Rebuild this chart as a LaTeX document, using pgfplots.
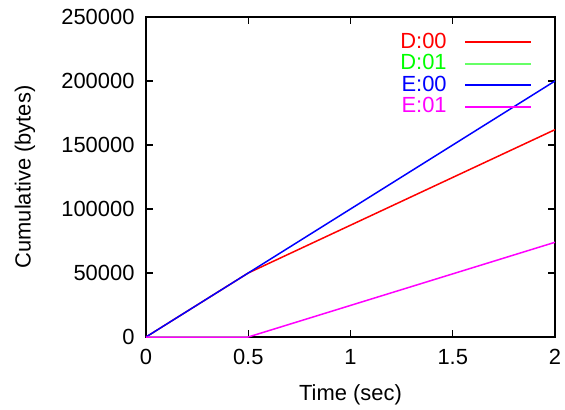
\documentclass[border=0pt]{standalone}
\usepackage{fontspec}
\setmainfont{Liberation Sans}
\usepackage{pgfplots}
\pgfplotsset{compat=1.18}
\definecolor{gpRed}{HTML}{FF0000}
\definecolor{gpGreen}{HTML}{00FF00}
\definecolor{gpBlue}{HTML}{0000FF}
\definecolor{gpMag}{HTML}{FF00FF}

\begin{document}
\fontsize{22}{26}\selectfont
\begin{tikzpicture}
\begin{axis}[
  scale only axis,
  width=409bp, height=320bp,
  xmin=0, xmax=2, ymin=0, ymax=250000,
  xtick={0,0.5,1,1.5,2},
  ytick={0,50000,100000,150000,200000,250000},
  scaled y ticks=false,
  /pgf/number format/assume math mode=true,
  yticklabel style={/pgf/number format/fixed, /pgf/number format/1000 sep={}, xshift=-4bp},
  xticklabel style={/pgf/number format/fixed, yshift=-5bp},
  tick align=inside,
  major tick length=7bp,
  tick style={black, line width=1.2bp},
  axis line style={line width=1.6bp},
  xlabel={Time (sec)},
  ylabel={Cumulative (bytes)},
  xlabel style={at={(axis description cs:0.5,-0.181)}, anchor=center},
  ylabel style={at={(axis description cs:-0.296,0.5)}, anchor=center},
  legend plot pos=right,
  legend cell align=right,
  legend image code/.code={\path (0bp,0bp); \draw[#1, line width=1.8bp] (16bp,0bp) -- (82bp,0bp);},
  legend style={draw=none, fill=none, at={(axis description cs:0.945,0.957)},
    anchor=north east, row sep=-1bp, inner sep=0pt},
  every axis plot/.append style={line width=1.5bp},
]
\addplot[color=gpRed] coordinates {(0,0) (0.5,50000) (2,162000)};
\addlegendentry{\textcolor{gpRed}{D:00}}
\addplot[color=gpGreen!60] coordinates {(0,0) (0.5,0)};
\addlegendentry{\textcolor{gpGreen}{D:01}}
\addplot[color=gpBlue] coordinates {(0,0) (2,200000)};
\addlegendentry{\textcolor{gpBlue}{E:00}}
\addplot[color=gpMag] coordinates {(0,0) (0.5,0) (2,74000)};
\addlegendentry{\textcolor{gpMag}{E:01}}
\end{axis}
\pgfresetboundingbox
\useasboundingbox (-146bp,-73bp) rectangle (419bp,337bp);
\end{tikzpicture}
\end{document}
